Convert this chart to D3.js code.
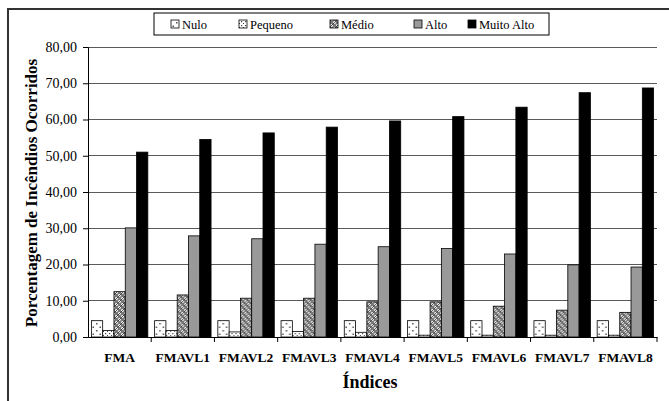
<!DOCTYPE html>
<html><head><meta charset="utf-8">
<script src="https://cdn.jsdelivr.net/npm/d3@7"></script>
<style>body{margin:0;background:#fff}svg{display:block}svg text{font-family:"Liberation Serif",Times,"Times New Roman","DejaVu Serif",serif !important}</style>
</head><body><svg id="c" width="669" height="401"></svg>
<script>
const categories = ["FMA","FMAVL1","FMAVL2","FMAVL3","FMAVL4","FMAVL5","FMAVL6","FMAVL7","FMAVL8"];
const seriesNames = ["Nulo","Pequeno","Médio","Alto","Muito Alto"];
const nulo      = [4.5, 4.5, 4.5, 4.5, 4.5, 4.5, 4.5, 4.5, 4.5];
const pequeno   = [1.8, 1.8, 1.4, 1.5, 1.3, 0.5, 0.5, 0.5, 0.5];
const medio     = [12.5, 11.6, 10.7, 10.7, 9.7, 9.7, 8.5, 7.4, 6.8];
const alto      = [30.1, 27.9, 27.1, 25.6, 24.9, 24.4, 22.9, 19.9, 19.3];
const muitoAlto = [51.0, 54.5, 56.3, 57.9, 59.6, 60.8, 63.4, 67.4, 68.7];
const yTicks = [0,10,20,30,40,50,60,70,80];
const seriesValues = [nulo, pequeno, medio, alto, muitoAlto];

const FONT = '"Liberation Serif", Times, "Times New Roman", "DejaVu Serif", serif';
const svg = d3.select("#c").attr("font-family", FONT);
const defs = svg.append("defs");
const pNulo = defs.append("pattern").attr("id","pNulo").attr("patternUnits","userSpaceOnUse").attr("width",7).attr("height",7);
pNulo.append("rect").attr("width",7).attr("height",7).attr("fill","#fff");
pNulo.append("rect").attr("x",1).attr("y",1).attr("width",1.5).attr("height",1.5).attr("fill","#555");
pNulo.append("rect").attr("x",4.5).attr("y",4.5).attr("width",1.5).attr("height",1.5).attr("fill","#555");
const pPeq = defs.append("pattern").attr("id","pPeq").attr("patternUnits","userSpaceOnUse").attr("width",4).attr("height",4);
pPeq.append("rect").attr("width",4).attr("height",4).attr("fill","#fff");
pPeq.append("rect").attr("x",1).attr("y",1).attr("width",1.2).attr("height",1.2).attr("fill","#444");
pPeq.append("rect").attr("x",3).attr("y",3).attr("width",1.2).attr("height",1.2).attr("fill","#444");
const pMed = defs.append("pattern").attr("id","pMed").attr("patternUnits","userSpaceOnUse").attr("width",6).attr("height",6);
pMed.append("rect").attr("width",6).attr("height",6).attr("fill","#777");
pMed.append("circle").attr("cx",1.5).attr("cy",1.5).attr("r",1.4).attr("fill","#fff");
pMed.append("circle").attr("cx",4.5).attr("cy",4.5).attr("r",1.4).attr("fill","#fff");
pMed.append("path").attr("d","M0,3L3,0M3,6L6,3").attr("stroke","#222").attr("stroke-width",0.8);
const fills = ["url(#pNulo)","url(#pPeq)","url(#pMed)","#999999","#000000"];

svg.append("rect").attr("x",8).attr("y",9).attr("width",700).attr("height",450)
  .attr("fill","none").attr("stroke","#333").attr("stroke-width",2);

const x0 = d3.scaleBand().domain(categories).range([88,657]).paddingInner(0).paddingOuter(0);
const bw = x0.bandwidth();
const pad = bw*0.3/5.6;
const x1 = d3.scaleBand().domain(seriesNames).range([pad, bw-pad]).padding(0);
const y = d3.scaleLinear().domain([0,80]).range([337,47]);

svg.append("g").selectAll("line").data(yTicks.filter(d=>d>0)).join("line")
  .attr("x1",88).attr("x2",657).attr("y1",d=>y(d)).attr("y2",d=>y(d))
  .attr("stroke","#5a5a5a").attr("stroke-width",1).attr("shape-rendering","crispEdges");

const gcat = svg.append("g").selectAll("g").data(categories).join("g")
  .attr("transform",d=>`translate(${x0(d)},0)`);
gcat.selectAll("rect").data((c,i)=>seriesNames.map((s,j)=>({s,j,v:seriesValues[j][i]}))).join("rect")
  .attr("x",d=>x1(d.s)).attr("width",x1.bandwidth())
  .attr("y",d=>y(d.v)).attr("height",d=>y(0)-y(d.v))
  .attr("fill",d=>fills[d.j]).attr("stroke","#000").attr("stroke-width",0.8);

const yAxis = d3.axisLeft(y).tickValues(yTicks).tickSize(5).tickPadding(6)
  .tickFormat(d=>d3.format(".2f")(d).replace(".",","));
const ya = svg.append("g").attr("transform","translate(88,0)").call(yAxis).attr("font-family",FONT);
ya.select(".domain").attr("stroke","#000");
ya.selectAll("text").attr("font-size","14px").attr("fill","#000");

const xa = svg.append("g").attr("transform",`translate(0,${y(0)})`)
  .call(d3.axisBottom(x0).tickSize(0).tickPadding(15)).attr("font-family",FONT);
xa.select(".domain").attr("stroke","#000");
xa.selectAll("text").attr("font-size","13.5px").attr("font-weight","bold").attr("fill","#000");
svg.append("g").selectAll("line").data(categories.slice(1).concat(["end"])).join("line")
  .attr("x1",d=>d==="end"?657:x0(d)).attr("x2",d=>d==="end"?657:x0(d))
  .attr("y1",y(0)).attr("y2",y(0)+5).attr("stroke","#000");

svg.append("text").attr("x",370).attr("y",388).attr("text-anchor","middle")
  .attr("font-size","18px").attr("font-weight","bold").text("Índices");
svg.append("text").attr("transform","translate(37,193) rotate(-90)").attr("text-anchor","middle")
  .attr("font-size","17px").attr("font-weight","bold").text("Porcentagem de Incêndios Ocorridos");

const lg = svg.append("g");
lg.append("rect").attr("x",154).attr("y",13).attr("width",395).attr("height",22)
  .attr("fill","#fff").attr("stroke","#000").attr("stroke-width",1);
const lx = [171, 239, 330, 414, 468];
seriesNames.forEach((s,i)=>{
  lg.append("rect").attr("x",lx[i]).attr("y",20).attr("width",8).attr("height",8)
    .attr("fill",fills[i]).attr("stroke","#000").attr("stroke-width",0.8);
  lg.append("text").attr("x",lx[i]+11).attr("y",29).attr("font-size","12.5px").text(s);
});
</script></body></html>
